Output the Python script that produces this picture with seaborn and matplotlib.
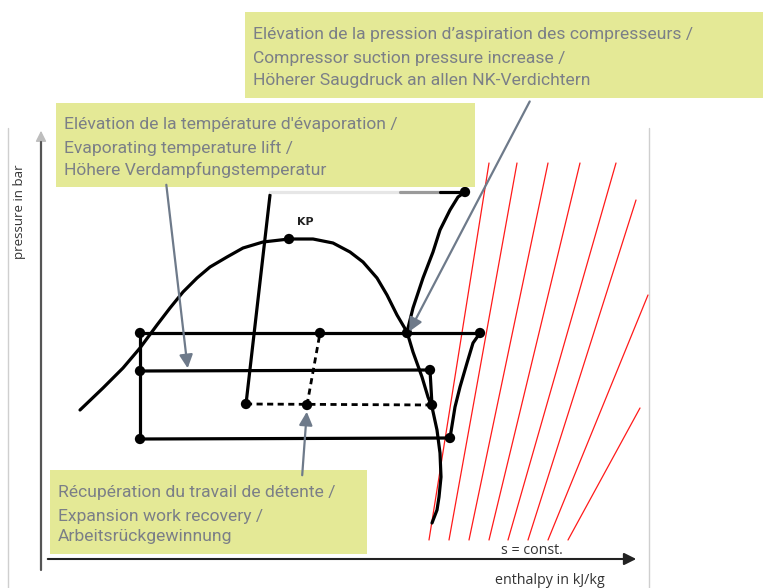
import numpy as np
import seaborn as sns
import matplotlib.pyplot as plt
from matplotlib.patches import Rectangle, FancyArrowPatch

sns.set_style('white')
plt.rcParams['font.family'] = ['Roboto', 'DejaVu Sans']

# schematic p-h diagram, drawing units (y grows downwards)
dome_h = [80, 103, 123, 140, 157, 170, 183, 197, 210, 227, 243, 263, 289,
          313, 333, 350, 363, 377, 387, 397, 407, 413, 422, 428, 432, 437, 440, 441, 439, 437, 432]
dome_p = [410, 388, 368, 348, 325, 308, 292, 278, 267, 257, 248, 242, 239,
          239, 243, 252, 262, 278, 295, 315, 332, 352, 377, 397, 407, 430, 453, 477, 497, 510, 523]

comp_h = [407, 413, 423, 433, 440, 450, 458, 465]
comp_p = [332, 308, 278, 252, 230, 210, 197, 192]

gc_h = [480, 473, 467, 460, 455, 450]
gc_p = [333, 343, 363, 387, 407, 438]

# isentropes s = const.
s_top_h = [489, 517, 548, 580, 616, 636, 648, 640]
s_top_p = [163, 163, 163, 163, 163, 200, 295, 408]
s_bot_h = [429, 449, 469, 489, 508, 528, 548, 568]
s_bot_p = [540, 540, 540, 540, 540, 540, 540, 540]

# cycle lines (h0, p0, h1, p1)
solid_lines = [(140, 333, 480, 333), (140, 371, 430, 370), (140, 439, 450, 438),
               (140, 333, 140, 439), (430, 370, 432, 405), (246, 404, 270, 195)]
dashed_lines = [(246, 404, 432, 405), (307, 405, 320, 333)]

dot_h = [140, 320, 407, 480, 140, 430, 246, 307, 432, 140, 450, 465, 289]
dot_p = [333, 333, 333, 333, 371, 370, 404, 405, 405, 439, 438, 192, 239]

box_color = '#e4e996'
text_color = '#7b7f87'
arrow_color = '#6e7a8a'

boxes = [
    (56, 103, 475, 187, 64, [125, 148, 170],
     ["Elévation de la température d'évaporation /",
      "Evaporating temperature lift /",
      "Höhere Verdampfungstemperatur"]),
    (245, 12, 763, 98, 253, [35, 58, 80],
     ["Elévation de la pression d’aspiration des compresseurs /",
      "Compressor suction pressure increase /",
      "Höherer Saugdruck an allen NK-Verdichtern"]),
    (50, 470, 367, 554, 58, [493, 516, 537],
     ["Récupération du travail de détente /",
      "Expansion work recovery /",
      "Arbeitsrückgewinnung"]),
]

# arrows (from, to)
arrows = [((166, 182), (188, 371)), ((531, 99), (408, 334)), ((302, 478), (307, 409))]

fig = plt.figure(figsize=(7.63, 5.88), dpi=100)
ax = fig.add_axes([0, 0, 1, 1])
ax.set_xlim(0, 763)
ax.set_ylim(588, 0)
ax.axis('off')

# panel frame
ax.plot([8, 8], [128, 588], color='#cfcfcf', lw=1)
ax.plot([649, 649], [128, 588], color='#cfcfcf', lw=1)

# axes arrows
ax.plot([41, 41], [142, 570], color='#555555', lw=1.6)
ax.add_patch(FancyArrowPatch((41, 150), (41, 128), arrowstyle='-|>', mutation_scale=16,
                             color='#bdbdbd', lw=1))
ax.add_patch(FancyArrowPatch((45, 559), (639, 559), arrowstyle='-|>', mutation_scale=18,
                             color='#222222', lw=1.5))

# isentropes
for h0, p0, h1, p1 in zip(s_top_h, s_top_p, s_bot_h, s_bot_p):
    ax.plot([h0, h1], [p0, p1], color='#ff1a1a', lw=0.9)

# dome and process curves
for hh, pp in [(dome_h, dome_p), (comp_h, comp_p), (gc_h, gc_p)]:
    sns.lineplot(x=hh, y=pp, sort=False, estimator=None, color='black', lw=2.3,
                 solid_joinstyle='round', solid_capstyle='round', ax=ax)

for h0, p0, h1, p1 in solid_lines:
    ax.plot([h0, h1], [p0, p1], color='black', lw=2.3, solid_capstyle='round')
for h0, p0, h1, p1 in dashed_lines:
    ax.plot([h0, h1], [p0, p1], color='black', lw=2.0, ls=(0, (2.2, 1.6)))

# faded high pressure line
ax.plot([270, 400], [192, 192], color='#e6e6e6', lw=2.3)
ax.plot([400, 440], [192, 192], color='#9a9a9a', lw=2.3)
ax.plot([440, 465], [192, 192], color='black', lw=2.3)

sns.scatterplot(x=dot_h, y=dot_p, color='black', s=55, edgecolor='none', ax=ax, zorder=5)
ax.text(297, 222, 'KP', fontsize=8, color='#222222', fontweight='bold',
        family=['DejaVu Sans'], va='center')

# labels
ax.text(20, 212, 'pressure in bar', rotation=90, fontsize=9.5, color='#333333',
        family=['Open Sans', 'DejaVu Sans'], ha='center', va='center')
ax.text(532, 551, 's = const.', fontsize=10.3, color='#333333',
        family=['Open Sans', 'DejaVu Sans'], ha='center', va='center')
ax.text(550, 581, 'enthalpy in kJ/kg', fontsize=10.3, color='#333333',
        family=['Open Sans', 'DejaVu Sans'], ha='center', va='center')

# annotation boxes
for x0, y0, x1, y1, tx, ty, lines in boxes:
    ax.add_patch(Rectangle((x0, y0), x1 - x0, y1 - y0, facecolor=box_color,
                           edgecolor='none', zorder=6))
    for y, s in zip(ty, lines):
        ax.text(tx, y, s, fontsize=12.6, color=text_color, va='center', zorder=7)

for start, end in arrows:
    ax.add_patch(FancyArrowPatch(start, end, arrowstyle='-|>', mutation_scale=20,
                                 color=arrow_color, lw=1.6, zorder=8))

fig.savefig('out.png', dpi=100)
